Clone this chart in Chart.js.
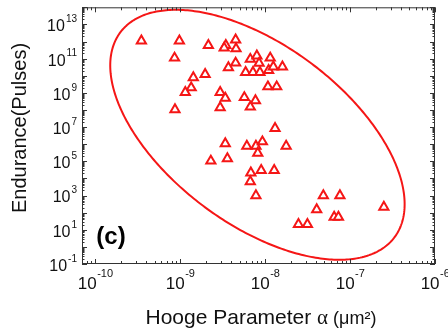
<!DOCTYPE html>
<html>
<head>
<meta charset="utf-8">
<script src="https://cdn.jsdelivr.net/npm/chart.js@4/dist/chart.umd.min.js"></script>
<style>
  html, body { margin: 0; padding: 0; background: #ffffff; }
  #wrap { width: 448px; height: 336px; }
</style>
</head>
<body>
<div id="wrap"><canvas id="c" width="448" height="336"></canvas></div>
<script>
// Hooge parameter alpha (um^2) for each device
const hooge = [
  3.5e-10, 9.8e-10, 2.15e-9, 3.45e-9, 4.5e-9, 4.55e-9, 3.3e-9, 8.6e-10,
  4.5e-9, 3.7e-9, 6.7e-9, 8.0e-9, 8.5e-9, 5.9e-9, 7.2e-9, 8.7e-9,
  1.1e-8, 1.15e-8, 1.25e-8, 1.6e-8, 1.97e-9, 1.43e-9, 1.35e-9, 1.15e-9,
  2.96e-9, 3.4e-9, 2.96e-9, 5.7e-9, 7.7e-9, 6.7e-9, 1.08e-8, 1.37e-8,
  8.7e-10, 1.31e-8, 3.4e-9, 6.1e-9, 7.8e-9, 9.3e-9, 8.2e-9, 1.77e-8,
  2.3e-9, 3.6e-9, 6.8e-9, 9.0e-9, 6.7e-9, 1.28e-8, 7.8e-9, 4.85e-8,
  7.6e-8, 4.05e-8, 2.5e-7, 6.5e-8, 7.3e-8, 2.47e-8, 3.15e-8
];
// Endurance (pulses) for each device
const endurance = [
  1.1e12, 1.1e12, 6.0e11, 6.0e11, 1.26e12, 3.8e11, 4.2e11, 1.1e11,
  5.6e10, 3.0e10, 9.3e10, 1.45e11, 5.4e10, 1.6e10, 1.6e10, 1.6e10,
  2.1e10, 1.1e11, 3.3e10, 3.3e10, 1.2e10, 7.8e9, 2.0e9, 1.07e9,
  1.07e9, 4.9e8, 1.4e8, 5.4e8, 3.5e8, 1.5e8, 2.3e9, 2.3e9,
  1.05e8, 8.5e6, 1.1e6, 7.8e5, 7.8e5, 1.4e6, 3.0e5, 7.8e5,
  1.05e5, 1.45e5, 2.1e4, 3.0e4, 6.6e3, 3.0e4, 1.0e3, 1.0e3,
  1.0e3, 150, 210, 55, 55, 21, 21
];
// Labelled tick exponents
const xTickExps = [-10, -9, -8, -7, -6];
const yTickExps = [-1, 1, 3, 5, 7, 9, 11, 13];
// Axis ranges
const xRange = [7e-11, 1e-6];
const yRange = [1e-1, 1e14];
// Guide ellipse in decades (log10 space): centre, major and minor half-axis vectors
const ellipseCenter = [-8.09, 6.55];
const ellipseMajor = [1.61, -6.01];
const ellipseMinor = [-0.64, -4.15];

const xTitle = 'Hooge Parameter ';
const xTitleAlpha = '\u03b1';
const xTitleUnit = ' (\u03bcm\u00b2)';
const yTitle = 'Endurance(Pulses)';
const panelLabel = '(c)';

const RED = 'rgb(245,22,22)';
const AXIS = '#333333';
const SANS = '"Liberation Sans", Arial, sans-serif';

const decor = {
  id: 'decor',
  beforeDatasetsDraw(chart) {
    const ctx = chart.ctx;
    const xs = chart.scales.x, ys = chart.scales.y;
    // ellipse
    ctx.save();
    ctx.strokeStyle = RED;
    ctx.lineWidth = 2;
    ctx.beginPath();
    for (let i = 0; i <= 360; i++) {
      const t = i * Math.PI / 180;
      const lx = ellipseCenter[0] + Math.cos(t) * ellipseMajor[0] + Math.sin(t) * ellipseMinor[0];
      const ly = ellipseCenter[1] + Math.cos(t) * ellipseMajor[1] + Math.sin(t) * ellipseMinor[1];
      const px = xs.getPixelForValue(Math.pow(10, lx));
      const py = ys.getPixelForValue(Math.pow(10, ly));
      if (i === 0) ctx.moveTo(px, py); else ctx.lineTo(px, py);
    }
    ctx.closePath();
    ctx.stroke();
    ctx.restore();
  },
  afterDraw(chart) {
    const ctx = chart.ctx;
    const xs = chart.scales.x, ys = chart.scales.y;
    const a = chart.chartArea;
    ctx.save();
    // frame
    ctx.strokeStyle = AXIS;
    ctx.lineWidth = 1;
    ctx.strokeRect(a.left + 0.5, a.top + 0.5, a.right - a.left - 1, a.bottom - a.top - 1);
    // x ticks
    ctx.beginPath();
    for (let e = -11; e <= -6; e++) {
      for (let m = 1; m <= 9; m++) {
        const v = m * Math.pow(10, e);
        if (v < xRange[0] * 0.999 || v > xRange[1] * 1.001) continue;
        const px = Math.round(xs.getPixelForValue(v)) + 0.5;
        const len = m === 1 ? 5 : 3;
        ctx.moveTo(px, a.bottom); ctx.lineTo(px, a.bottom - len);
        ctx.moveTo(px, a.top); ctx.lineTo(px, a.top + len);
      }
    }
    // y ticks
    for (let e = -1; e <= 14; e++) {
      for (let m = 1; m <= 9; m++) {
        const v = m * Math.pow(10, e);
        if (v < yRange[0] * 0.999 || v > yRange[1] * 1.001) continue;
        const py = Math.round(ys.getPixelForValue(v)) + 0.5;
        const len = m === 1 ? 5 : 2.5;
        ctx.moveTo(a.left, py); ctx.lineTo(a.left + len, py);
        ctx.moveTo(a.right, py); ctx.lineTo(a.right - len, py);
      }
    }
    ctx.stroke();

    // tick labels
    ctx.fillStyle = '#111111';
    ctx.textBaseline = 'middle';
    ctx.textAlign = 'left';
    const baseFontX = '17px ' + SANS, supFontX = '11px ' + SANS;
    xTickExps.forEach(e => {
      const px = xs.getPixelForValue(Math.pow(10, e));
      ctx.font = baseFontX; const w1 = ctx.measureText('10').width;
      ctx.font = supFontX; const w2 = ctx.measureText(String(e)).width;
      const x0 = px - (w1 + w2) / 2;
      ctx.font = baseFontX; ctx.fillText('10', x0, 284);
      ctx.font = supFontX; ctx.fillText(String(e), x0 + w1 + 0.5, 274);
    });
    const baseFontY = '16px ' + SANS, supFontY = '10px ' + SANS;
    yTickExps.forEach(e => {
      const py = ys.getPixelForValue(Math.pow(10, e));
      ctx.font = supFontY; const w2 = ctx.measureText(String(e)).width;
      ctx.font = baseFontY; const w1 = ctx.measureText('10').width;
      const right = 77;
      ctx.font = baseFontY; ctx.fillText('10', right - w2 - w1 - 1, py + 2.5);
      ctx.font = supFontY; ctx.fillText(String(e), right - w2, py - 5);
    });

    // x title
    ctx.textBaseline = 'alphabetic';
    const fA = '21px ' + SANS;
    const fB = '21px "Liberation Serif", "Times New Roman", serif';
    const fC = '18px ' + SANS;
    ctx.font = fA; const wA = ctx.measureText(xTitle).width;
    ctx.font = fB; const wB = ctx.measureText(xTitleAlpha).width;
    ctx.font = fC; const wC = ctx.measureText(xTitleUnit).width;
    let tx = 261 - (wA + wB + wC) / 2;
    ctx.font = fA; ctx.fillText(xTitle, tx, 324); tx += wA;
    ctx.font = fB; ctx.fillText(xTitleAlpha, tx, 324); tx += wB;
    ctx.font = fC; ctx.fillText(xTitleUnit, tx, 324);

    // y title
    ctx.save();
    ctx.translate(20, 128);
    ctx.rotate(-Math.PI / 2);
    ctx.textAlign = 'center';
    ctx.textBaseline = 'middle';
    ctx.font = '20px ' + SANS;
    ctx.fillText(yTitle, 0, 0);
    ctx.restore();

    // panel label
    ctx.font = 'bold 24px ' + SANS;
    ctx.textAlign = 'center';
    ctx.textBaseline = 'middle';
    ctx.fillStyle = '#000000';
    ctx.fillText(panelLabel, 111, 237);
    ctx.restore();
  }
};

new Chart(document.getElementById('c'), {
  type: 'scatter',
  data: {
    datasets: [{
      data: hooge.map((h, i) => ({ x: h, y: endurance[i] })),
      pointStyle: 'triangle',
      pointRadius: 5.3,
      pointHoverRadius: 5.3,
      borderColor: RED,
      backgroundColor: '#ffffff',
      borderWidth: 2
    }]
  },
  options: {
    responsive: false,
    animation: false,
    layout: { padding: { top: 5, right: 13, left: 0, bottom: 0 } },
    plugins: { legend: { display: false }, tooltip: { enabled: false } },
    scales: {
      x: {
        type: 'logarithmic', min: xRange[0], max: xRange[1],
        ticks: { display: false }, grid: { display: false }, border: { display: false },
        afterFit(s) { s.height = 72; }
      },
      y: {
        type: 'logarithmic', min: yRange[0], max: yRange[1],
        ticks: { display: false }, grid: { display: false }, border: { display: false },
        afterFit(s) { s.width = 82; }
      }
    }
  },
  plugins: [decor]
});
</script>
</body>
</html>
